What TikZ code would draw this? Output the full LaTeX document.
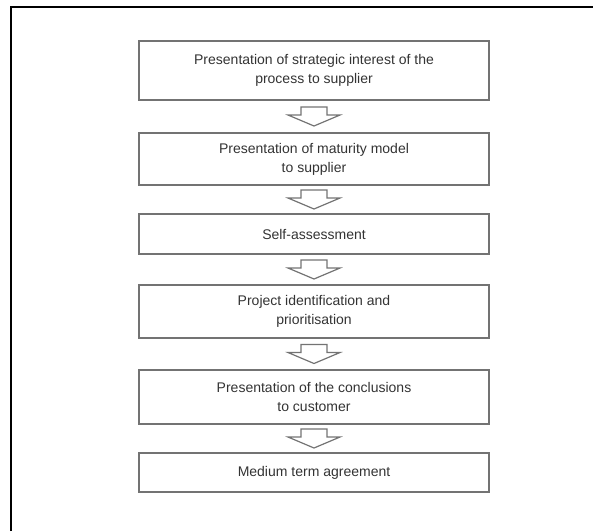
\documentclass[tikz,border=0pt]{standalone}
\usepackage{fontspec}
\setmainfont{Liberation Sans}
\usepackage{tikz}
\usetikzlibrary{calc,positioning}
\definecolor{BoxGray}{rgb}{0.45, 0.45, 0.45}
\definecolor{TextGray}{rgb}{0.2, 0.2, 0.2}
\tikzset{flow layout/.style={%
    y=-1pt,
    x=1pt,
    every node/.style={%
        font=\fontsize{14}{19}\selectfont, text=TextGray
    }
}}
\tikzset{stage box/.style={%
    draw=BoxGray, line width=1.6pt, minimum width=350pt, inner sep=0pt, align=center
}}
\tikzset{hollow arrow/.style={%
    draw=BoxGray, line width=1.2pt, line join=miter,
    to path={($(\tikztostart.south)!0.5!(\tikztotarget.north)+(-13pt,9.5pt)$)
        -- ++(26pt,0pt) -- ++(0pt,-8pt) -- ++(13pt,0pt) -- ++(-26pt,-11pt)
        -- ++(-26pt,11pt) -- ++(13pt,0pt) -- cycle}
}}

\begin{document}
\begin{tikzpicture}[flow layout]
    \useasboundingbox (0,0) rectangle (593,531);
    \draw[black, line width=1.8pt] (11,531) -- (11,7) -- (593,7);

    \node[stage box, minimum height=59pt] (b1) at (314,70.5) {Presentation of strategic interest of the\\process to supplier};
    \node[stage box, minimum height=52pt] (b2) at (314,159) {Presentation of maturity model\\to supplier};
    \node[stage box, minimum height=40pt] (b3) at (314,234) {Self-assessment};
    \node[stage box, minimum height=53pt] (b4) at (314,311.5) {Project identification and\\prioritisation};
    \node[stage box, minimum height=54pt] (b5) at (314,397) {Presentation of the conclusions\\to customer};
    \node[stage box, minimum height=39pt] (b6) at (314,472.5) {Medium term agreement};

    \foreach \i in {1,...,5} {
        \pgfmathtruncatemacro{\j}{\i+1}
        \draw[hollow arrow] (b\i) to (b\j);
    }
\end{tikzpicture}
\end{document}
